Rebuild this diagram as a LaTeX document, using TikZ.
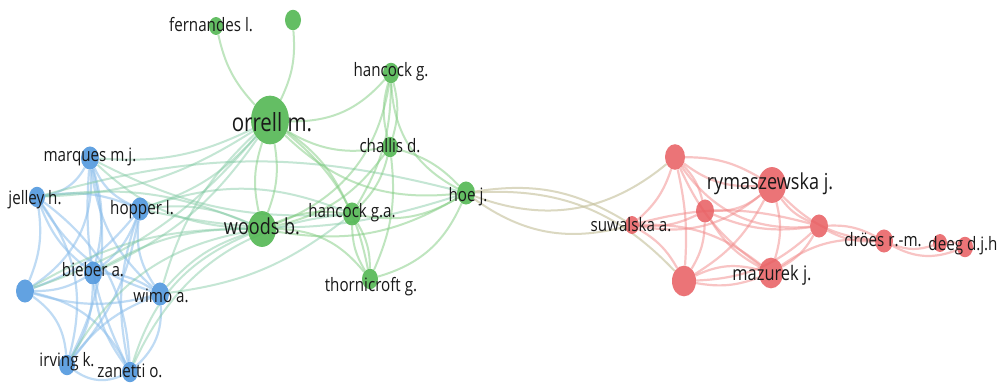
\documentclass[tikz,border=0pt]{standalone}
\usepackage{fontspec}
\setmainfont[FakeStretch=0.82]{Open Sans}
\usetikzlibrary{backgrounds,shapes.geometric}
\definecolor{nblue}{RGB}{82,152,222}
\definecolor{ngreen}{RGB}{84,184,84}
\definecolor{nred}{RGB}{232,92,96}
\definecolor{eblue}{RGB}{140,190,235}
\definecolor{egreen}{RGB}{128,204,128}
\definecolor{ebg}{RGB}{125,200,160}
\definecolor{ered}{RGB}{242,138,138}
\definecolor{etan}{RGB}{200,196,160}
\definecolor{txt}{RGB}{25,25,25}
\tikzset{
  vb/.style={ellipse,inner sep=0pt,fill=nblue,fill opacity=0.9,minimum width=#1,minimum height=1.28*#1},
  vg/.style={ellipse,inner sep=0pt,fill=ngreen,fill opacity=0.9,minimum width=#1,minimum height=1.28*#1},
  vr/.style={ellipse,inner sep=0pt,fill=nred,fill opacity=0.85,minimum width=#1,minimum height=1.28*#1},
  lab/.style={inner sep=0pt,text=txt,font=\fontsize{#1}{#1}\selectfont},
  lab/.default=18.5,
  eb/.style={draw=eblue,line width=2.2pt,opacity=0.55},
  eg/.style={draw=egreen,line width=2pt,opacity=0.5},
  ex/.style={draw=ebg,line width=2pt,opacity=0.45},
  er/.style={draw=ered,line width=2.2pt,opacity=0.5},
  et/.style={draw=etan,line width=2pt,opacity=0.65},
}
\begin{document}
\begin{tikzpicture}[x=1pt,y=-1pt]
\useasboundingbox (0,0) rectangle (1000,383);
% blue
\node[vb=18] (mq) at (90,158) {};
\node[vb=16] (jl) at (37,197) {};
\node[vb=18] (hp) at (140,209) {};
\node[vb=18] (bb) at (93,273) {};
\node[vb=18] (ub) at (25,291) {};
\node[vb=18] (wm) at (160,294) {};
\node[vb=16] (ir) at (67,365) {};
\node[vb=16] (zn) at (130,372) {};
% green
\node[vg=14] (fe) at (216,26) {};
\node[vg=16] (gu) at (293,20) {};
\node[vg=38] (or) at (270,120) {};
\node[vg=16] (hg) at (391,73) {};
\node[vg=16] (cd) at (390,147) {};
\node[vg=28] (wd) at (262,229) {};
\node[vg=18] (hga) at (352,214) {};
\node[vg=18] (hoe) at (466,193) {};
\node[vg=16] (th) at (370,279) {};
% red
\node[vr=20] (rt) at (675,157) {};
\node[vr=28] (ry) at (772,185) {};
\node[vr=18] (rc) at (705,211) {};
\node[vr=14] (sw) at (632,225) {};
\node[vr=18] (rr) at (819,226) {};
\node[vr=18] (dr) at (884,241) {};
\node[vr=14] (dg1) at (940,243) {};
\node[vr=16] (dg2) at (965,247) {};
\node[vr=24] (rb) at (684,281) {};
\node[vr=24] (mz) at (771,273) {};
\begin{pgfonlayer}{background}
\fill[white] (0,0) rectangle (1000,383);
\foreach \a/\b/\k in {mq/jl/25,mq/hp/-20,mq/bb/15,mq/ub/30,mq/wm/-20,mq/ir/20,mq/zn/-15,
  jl/hp/15,jl/bb/-15,jl/ub/15,jl/wm/-20,jl/ir/25,jl/zn/25,
  hp/bb/15,hp/ub/15,hp/wm/-20,hp/ir/15,hp/zn/-15,
  bb/ub/15,bb/wm/15,bb/ir/15,bb/zn/-15,
  ub/wm/-15,ub/ir/25,ub/zn/25,wm/ir/-15,wm/zn/25,ir/zn/-30}
  {\draw[eb] (\a) to[bend left=\k] (\b);}
\foreach \a/\b/\k in {mq/or/-15,mq/wd/-20,mq/hga/-15,jl/or/-15,jl/wd/15,jl/hoe/15,
  hp/or/-15,hp/wd/15,hp/hga/20,hp/hoe/-15,bb/or/-15,bb/wd/15,ub/wd/15,ub/or/-15,
  wm/wd/15,wm/or/15,wm/hga/-15,ir/wd/25,zn/wd/25,zn/hga/30}
  {\draw[ex] (\a) to[bend left=\k] (\b);}
\foreach \a/\b/\k in {or/fe/15,or/gu/-15,or/wd/15,or/wd/-15,or/hg/-25,or/cd/-20,or/hoe/-25,
  or/hga/15,or/th/20,wd/hg/-30,wd/cd/-20,wd/hoe/-20,wd/hga/15,wd/th/25,
  hg/cd/15,hg/cd/-15,hg/hoe/-30,hg/hga/15,cd/hoe/15,cd/hga/15,cd/th/15,
  hga/hoe/-20,hga/th/15,hga/th/-15,th/hoe/-25}
  {\draw[eg] (\a) to[bend left=\k] (\b);}
\foreach \a/\b/\k in {hoe/sw/-25,hoe/sw/20,hoe/rt/-30,hoe/rb/25}
  {\draw[et] (\a) to[bend left=\k] (\b);}
\foreach \a/\b/\k in {rt/ry/-20,rt/ry/15,rt/rc/15,rt/sw/15,rt/rr/-30,rt/rb/8,rt/mz/-15,
  ry/rc/20,ry/sw/25,ry/rr/-15,ry/rb/15,ry/mz/15,ry/dr/-20,
  rc/sw/15,rc/rr/-15,rc/rb/15,rc/mz/-15,sw/rr/15,sw/rb/15,sw/mz/20,
  rr/rb/20,rr/mz/15,rr/dr/-15,rr/dr/15,rb/mz/20,rb/mz/-15,mz/dr/20,
  dr/dg1/-20,dr/dg2/-25,dg1/dg2/15}
  {\draw[er] (\a) to[bend left=\k] (\b);}
\end{pgfonlayer}
% labels
\node[lab] (mq-t) at (90,157) {marques m.j.};
\node[lab] (jl-t) at (35,200) {jelley h.};
\node[lab] (hp-t) at (142,210) {hopper l.};
\node[lab] (bb-t) at (93,270) {bieber a.};
\node[lab] (wm-t) at (161,296) {wimo a.};
\node[lab] (ir-t) at (67,362) {irving k.};
\node[lab] (zn-t) at (130,371) {zanetti o.};
\node[lab] (fe-t) at (211,25) {fernandes l.};
\node[lab] (hg-t) at (391,72) {hancock g.};
\node[lab] (cd-t) at (390,146) {challis d.};
\node[lab] (hoe-t) at (468,197) {hoe j.};
\node[lab] (hga-t) at (352,213) {hancock g.a.};
\node[lab] (th-t) at (371,287) {thornicroft g.};
\node[lab=25] (or-t) at (272,122) {orrell m.};
\node[lab=22] (wd-t) at (262,226) {woods b.};
\node[lab] (sw-t) at (631,225) {suwalska a.};
\node[lab=22] (ry-t) at (770,184) {rymaszewska j.};
\node[lab=20] (mz-t) at (772,275) {mazurek j.};
\node[lab] (dr-t) at (883,240) {dröes r.-m.};
\node[lab] (dg-t) at (963,246) {deeg d.j.h};
\end{tikzpicture}
\end{document}
